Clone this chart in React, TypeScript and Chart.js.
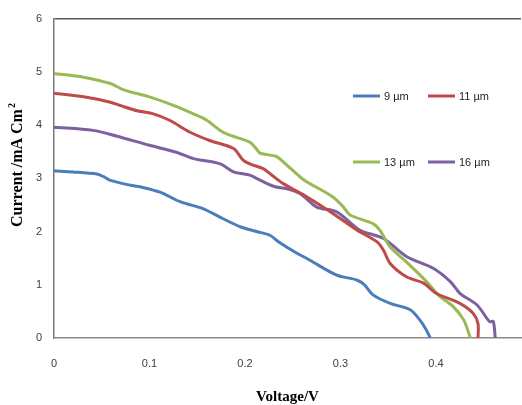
import { useEffect, useRef } from "react";
import { Chart, registerables } from "chart.js";

Chart.register(...registerables);

const seriesLabels = ["9 µm", "11 µm", "13 µm", "16 µm"];
const seriesColors = ["#4A7EBB", "#BE4B48", "#98B954", "#7D60A0"];

const v9 = [0, 0.02, 0.045, 0.052, 0.059, 0.08, 0.09, 0.111, 0.132, 0.156, 0.177, 0.195, 0.212, 0.226, 0.235, 0.25, 0.268, 0.296, 0.317, 0.325, 0.334, 0.352, 0.373, 0.383, 0.389, 0.394];
const j9 = [3.14, 3.12, 3.08, 3.03, 2.96, 2.87, 2.84, 2.74, 2.56, 2.43, 2.24, 2.09, 2.0, 1.93, 1.81, 1.64, 1.46, 1.18, 1.09, 1.0, 0.81, 0.65, 0.53, 0.34, 0.18, 0.0];

const v11 = [0, 0.031, 0.059, 0.069, 0.087, 0.104, 0.121, 0.142, 0.163, 0.188, 0.198, 0.205, 0.219, 0.226, 0.24, 0.265, 0.292, 0.317, 0.338, 0.345, 0.352, 0.369, 0.387, 0.4, 0.425, 0.439, 0.444, 0.444];
const j11 = [4.6, 4.53, 4.43, 4.37, 4.27, 4.21, 4.09, 3.87, 3.71, 3.56, 3.34, 3.27, 3.18, 3.09, 2.9, 2.65, 2.34, 2.03, 1.81, 1.65, 1.4, 1.15, 1.03, 0.84, 0.65, 0.46, 0.27, 0.0];

const v13 = [0, 0.031, 0.059, 0.073, 0.1, 0.125, 0.146, 0.16, 0.174, 0.184, 0.205, 0.212, 0.216, 0.233, 0.24, 0.258, 0.265, 0.292, 0.303, 0.31, 0.334, 0.341, 0.352, 0.369, 0.39, 0.404, 0.418, 0.429, 0.436];
const j13 = [4.97, 4.9, 4.78, 4.66, 4.53, 4.37, 4.21, 4.09, 3.9, 3.81, 3.68, 3.55, 3.47, 3.41, 3.31, 3.02, 2.93, 2.65, 2.46, 2.31, 2.15, 2.03, 1.71, 1.43, 1.06, 0.78, 0.59, 0.34, 0.0];

const v16 = [0, 0.041, 0.066, 0.1, 0.128, 0.146, 0.174, 0.188, 0.205, 0.212, 0.23, 0.247, 0.258, 0.275, 0.296, 0.32, 0.345, 0.369, 0.397, 0.415, 0.425, 0.443, 0.456, 0.46, 0.462];
const j16 = [3.96, 3.9, 3.79, 3.62, 3.49, 3.37, 3.27, 3.12, 3.06, 3.0, 2.85, 2.79, 2.71, 2.46, 2.37, 2.03, 1.87, 1.53, 1.31, 1.06, 0.84, 0.62, 0.31, 0.31, 0.0];

const voltages = [v9, v11, v13, v16];
const currents = [j9, j11, j13, j16];

const xTickValues = [0, 0.1, 0.2, 0.3, 0.4];
const xMin = 0;
const xMax = 0.489;
const yMin = 0;
const yMax = 6;
const xTitle = "Voltage/V";
const yTitle = "Current /mA Cm";
const yTitleSup = "2";

const tickFont = '"Liberation Sans", Arial, sans-serif';
const titleFont = '"Liberation Serif", "Times New Roman", serif';

const overlayPlugin = {
  id: "overlay",
  afterDraw(chart: any) {
    const ctx = chart.ctx as CanvasRenderingContext2D;
    const area = chart.chartArea;
    ctx.save();
    // legend (2 x 2 inside plot)
    const slots = [
      [353, 96],
      [428, 96],
      [353, 162],
      [428, 162],
    ];
    ctx.font = `11px ${tickFont}`;
    ctx.textBaseline = "middle";
    ctx.textAlign = "left";
    chart.data.datasets.forEach((ds: any, i: number) => {
      const [lx, ly] = slots[i];
      ctx.strokeStyle = ds.borderColor;
      ctx.lineWidth = 3;
      ctx.beginPath();
      ctx.moveTo(lx, ly);
      ctx.lineTo(lx + 27, ly);
      ctx.stroke();
      ctx.fillStyle = "#262626";
      ctx.fillText(ds.label, lx + 31, ly + 1);
    });
    // x title
    ctx.fillStyle = "#000";
    ctx.font = `bold 15px ${titleFont}`;
    ctx.textAlign = "center";
    ctx.textBaseline = "middle";
    ctx.fillText(xTitle, (area.left + area.right) / 2, 397);
    // y title
    ctx.translate(18, 165);
    ctx.rotate(-Math.PI / 2);
    ctx.font = `bold 16px ${titleFont}`;
    const mainW = ctx.measureText(yTitle).width;
    ctx.font = `bold 10px ${titleFont}`;
    const supW = ctx.measureText(yTitleSup).width;
    const total = mainW + supW + 1;
    ctx.textAlign = "left";
    ctx.font = `bold 16px ${titleFont}`;
    ctx.fillText(yTitle, -total / 2, 0);
    ctx.font = `bold 10px ${titleFont}`;
    ctx.fillText(yTitleSup, -total / 2 + mainW + 1, -6);
    ctx.restore();
  },
};

export default function App() {
  const ref = useRef<HTMLCanvasElement | null>(null);
  useEffect(() => {
    document.body.style.margin = "0";
    if (!ref.current) return;
    const datasets = seriesLabels.map((label, i) => ({
      label,
      data: voltages[i].map((v, k) => ({ x: v, y: currents[i][k] })),
      borderColor: seriesColors[i],
      backgroundColor: seriesColors[i],
      borderWidth: 3,
      pointRadius: 0,
      tension: 0.3,
      fill: false,
    }));
    const chart = new Chart(ref.current, {
      type: "line",
      data: { datasets },
      plugins: [overlayPlugin],
      options: {
        animation: false,
        responsive: false,
        layout: { padding: { top: 18, right: 1, left: 0, bottom: 0 } },
        plugins: { legend: { display: false }, tooltip: { enabled: false } },
        scales: {
          x: {
            type: "linear",
            min: xMin,
            max: xMax,
            afterBuildTicks: (s: any) => {
              s.ticks = xTickValues.map((v) => ({ value: v }));
            },
            afterFit: (s: any) => {
              s.height = 67;
            },
            ticks: {
              padding: 19,
              color: "#404040",
              font: { family: tickFont, size: 11 },
              callback: (v: any) => String(v),
              maxRotation: 0,
            },
            grid: { display: false, drawTicks: false },
            border: { display: true, color: "#8a8a8a", width: 1.5 },
          },
          y: {
            min: yMin,
            max: yMax,
            afterFit: (s: any) => {
              s.width = 54;
            },
            ticks: {
              stepSize: 1,
              padding: 12,
              color: "#404040",
              font: { family: tickFont, size: 11 },
            },
            grid: {
              drawTicks: false,
              color: (c: any) => (c.tick && c.tick.value === yMax ? "#5a5a5a" : "rgba(0,0,0,0)"),
              lineWidth: 1.5,
            },
            border: { display: true, color: "#7a7a7a", width: 1.5 },
          },
        },
      },
    });
    return () => chart.destroy();
  }, []);
  return <canvas ref={ref} width={522} height={405} style={{ display: "block" }} />;
}
